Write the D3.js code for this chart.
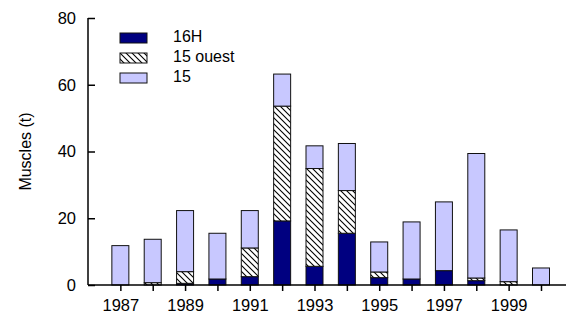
<!DOCTYPE html>
<html>
<head>
<meta charset="utf-8">
<script src="https://cdn.jsdelivr.net/npm/d3@7"></script>
<style>
  html, body { margin: 0; padding: 0; background: #fff; }
  svg { display: block; font-family: "Liberation Sans", Arial, sans-serif; }
</style>
</head>
<body>
<svg id="chart" width="566" height="324"></svg>
<script>
// Landings by year (tonnes), stacked: 16H at the bottom, then 15 ouest, then 15
const years = [1987, 1988, 1989, 1990, 1991, 1992, 1993, 1994, 1995, 1996, 1997, 1998, 1999, 2000];
const h16 =     [0,   0,   0.5, 1.8, 2.5, 19.2, 5.6, 15.5, 2.2, 1.8, 4.3, 1.3, 0,   0];
const ouest15 = [0,   0.7, 3.5, 0,   8.6, 34.4, 29.3, 12.8, 1.7, 0,  0,   0.8, 1.0, 0];
const z15 =     [11.8, 13.0, 18.3, 13.7, 11.2, 9.6, 6.8, 14.1, 9.0, 17.1, 20.6, 37.3, 15.5, 5.1];
const yTicks = [0, 20, 40, 60, 80];
const xTickLabels = [1987, 1989, 1991, 1993, 1995, 1997, 1999];
const seriesNames = ["16H", "15 ouest", "15"];

const svg = d3.select("#chart");
const fills = { "16H": "#000080", "15 ouest": "url(#hatch)", "15": "#c8c8ff" };

// diagonal hatch
const defs = svg.append("defs");
const pat = defs.append("pattern")
  .attr("id", "hatch").attr("patternUnits", "userSpaceOnUse")
  .attr("width", 6).attr("height", 6);
pat.append("rect").attr("width", 6).attr("height", 6).attr("fill", "#fff");
pat.append("path")
  .attr("d", "M-1,-1 L7,7 M-4,2 L2,8 M4,-2 L8,2")
  .attr("stroke", "#000").attr("stroke-width", 1.1);

const x = d3.scaleLinear().domain([1986, 2000]).range([88, 541]);
const y = d3.scaleLinear().domain([0, 80]).range([285, 18]);
const barW = 17;

const rows = years.map((yr, i) => ({ year: yr, "16H": h16[i], "15 ouest": ouest15[i], "15": z15[i] }));
const stack = d3.stack().keys(seriesNames)(rows);

svg.append("g").selectAll("g").data(stack).join("g")
  .attr("fill", d => fills[d.key])
  .selectAll("rect").data(d => d.filter(s => s[1] - s[0] > 0)).join("rect")
  .attr("x", d => x(d.data.year) - barW / 2)
  .attr("y", d => y(d[1]))
  .attr("width", barW)
  .attr("height", d => y(d[0]) - y(d[1]))
  .attr("stroke", "#111").attr("stroke-width", 1);

// Y axis
const yAxis = svg.append("g").attr("transform", "translate(88,0)")
  .call(d3.axisRight(y).tickValues(yTicks).tickSize(7).tickFormat(d3.format("d")));
yAxis.select(".domain").attr("d", `M0,${y(80)}V${y(0)}`).attr("stroke", "#000").attr("stroke-width", 1.5);
yAxis.selectAll(".tick line").attr("stroke", "#000").attr("stroke-width", 1.5);
yAxis.selectAll(".tick text")
  .attr("x", -12).attr("text-anchor", "end")
  .attr("font-size", 16.5).attr("fill", "#000");

// X axis
const xAxis = svg.append("g").attr("transform", `translate(0,${y(0)})`)
  .call(d3.axisBottom(x).tickValues(years).tickSize(6).tickFormat(d => xTickLabels.includes(d) ? d : ""));
xAxis.select(".domain").attr("d", `M88,0H566`).attr("stroke", "#000").attr("stroke-width", 1.5);
xAxis.selectAll(".tick line").attr("stroke", "#000").attr("stroke-width", 1.5);
xAxis.selectAll(".tick text").attr("y", 14).attr("font-size", 16.5).attr("fill", "#000");

// Y title
svg.append("text")
  .attr("transform", `translate(27,${(y(0) + y(80)) / 2}) rotate(-90)`)
  .attr("text-anchor", "middle").attr("dominant-baseline", "middle")
  .attr("font-size", 16).text("Muscles (t)");

// Legend
const lg = svg.append("g").attr("transform", "translate(120,33)");
seriesNames.forEach((name, i) => {
  const g = lg.append("g").attr("transform", `translate(0,${i * 20})`);
  g.append("rect").attr("width", 27).attr("height", 10)
    .attr("fill", fills[name]).attr("stroke", "#111").attr("stroke-width", 1);
  g.append("text").attr("x", 53).attr("y", 5).attr("dominant-baseline", "middle")
    .attr("font-size", 16).text(name);
});
</script>
</body>
</html>
